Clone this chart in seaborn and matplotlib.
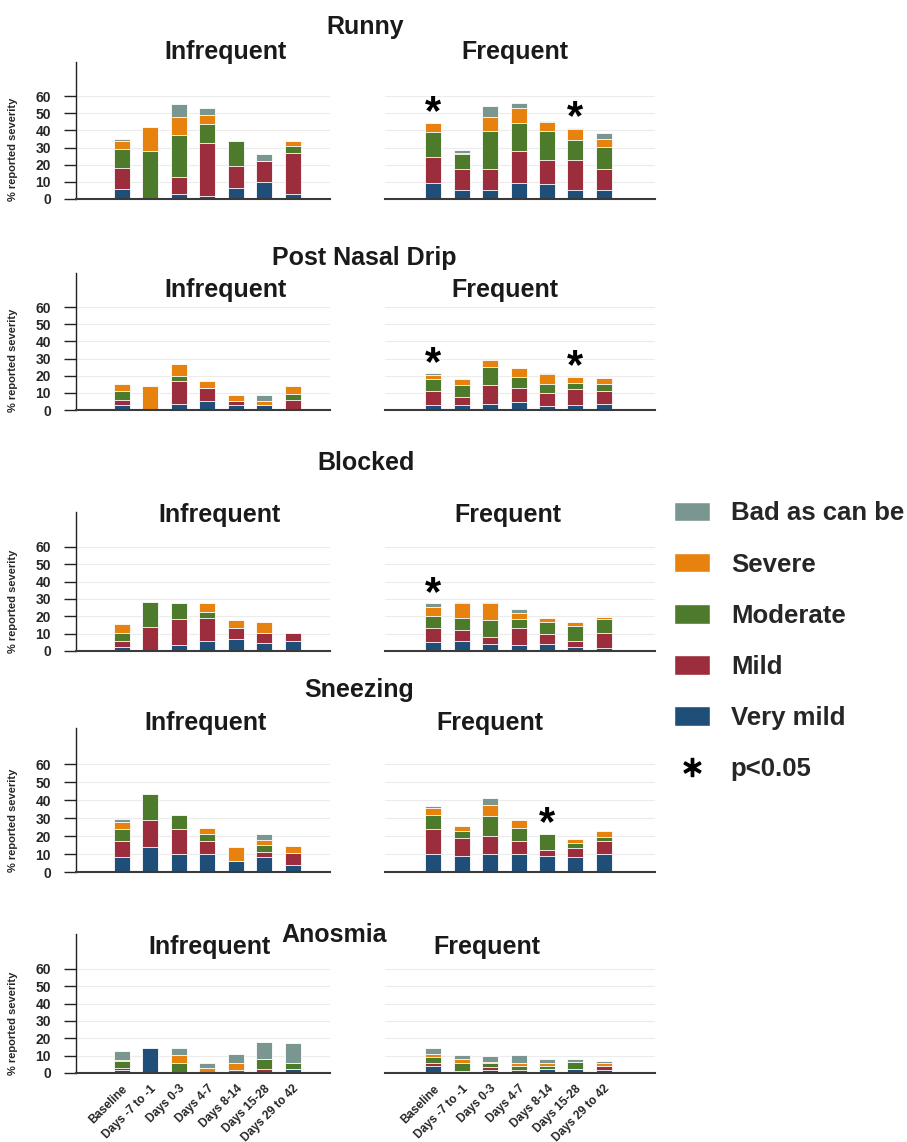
import seaborn as sns
import matplotlib.pyplot as plt
import pandas as pd
import numpy as np
from matplotlib.patches import Patch
from matplotlib.lines import Line2D

sns.set_theme(style="whitegrid")
plt.rcParams['font.family'] = ['Liberation Sans', 'DejaVu Sans']

timepoints = ["Baseline", "Days -7 to -1", "Days 0-3", "Days 4-7",
              "Days 8-14", "Days 15-28", "Days 29 to 42"]
levels = ["Very mild", "Mild", "Moderate", "Severe", "Bad as can be"]
level_colors = ["#1f4e79", "#9b2d3c", "#4e7a2c", "#e8820e", "#7a9690"]

# each panel: rows = very mild, mild, moderate, severe, bad as can be (% of reports)
runny_infrequent = [
    [6, 0, 3, 2, 6.5, 10, 3],
    [12, 0, 10, 30.5, 13, 12, 24],
    [11, 28, 24, 11, 14, 0, 4],
    [5, 14, 10.5, 5.5, 0, 0, 3],
    [1, 0, 8, 4, 0, 4, 0],
]
runny_frequent = [
    [9.5, 5.5, 5, 9.5, 8.5, 5, 5.5],
    [15, 12, 12.5, 18.5, 14, 17.5, 12],
    [14.5, 9, 22, 16, 17, 12, 13],
    [5.5, 0.5, 8.5, 9, 5.5, 6, 4.5],
    [0, 1.5, 6, 3, 0.5, 1, 3.5],
]
pnd_infrequent = [
    [3, 0, 3.5, 5.5, 3, 3, 0],
    [3, 0, 13.5, 7.5, 2.5, 0, 6],
    [5, 0, 3, 0, 0, 0, 3.5],
    [4, 14, 7, 4, 3, 2.5, 4.5],
    [0, 0, 0, 0, 0, 3, 0],
]
pnd_frequent = [
    [3, 3, 3.5, 4.5, 2.5, 3, 3.5],
    [8, 4.5, 11, 8.5, 7.5, 9, 7.5],
    [7, 7, 10.5, 6, 5, 4, 4],
    [2.5, 3.5, 4, 5.5, 6, 3.5, 3.5],
    [1, 0, 0, 0, 0.5, 0, 0],
]
blocked_infrequent = [
    [2.5, 0, 3.5, 6, 7, 4.5, 6],
    [3, 14, 15, 13, 6, 6, 4.5],
    [5, 14.5, 9, 3.5, 0, 0, 0],
    [5, 0, 0, 5, 5, 6.5, 0],
    [0, 0, 0, 0, 0, 0, 0],
]
blocked_frequent = [
    [5, 6, 4, 3.5, 4, 2.5, 2],
    [8, 6, 4, 10, 6, 3.5, 8.5],
    [7, 7, 10, 5, 6.5, 8.5, 8],
    [5.5, 8.5, 9.5, 3.5, 2.5, 2.5, 1],
    [2, 1, 1, 2, 0, 0, 0],
]
sneezing_infrequent = [
    [8.5, 14, 10, 10, 6, 8.5, 4],
    [9, 15, 14, 7.5, 0, 2.5, 6.5],
    [6.5, 14.5, 7.5, 3.5, 0, 4, 0],
    [4, 0, 0, 3.5, 8, 3, 4],
    [1.5, 0, 0, 0, 0, 3, 0],
]
sneezing_frequent = [
    [10, 9, 10, 10, 9, 8.5, 10],
    [14, 10, 10, 7.5, 3, 5, 7],
    [7.5, 4, 11, 7, 9, 2.5, 2.5],
    [4, 2.5, 6, 4.5, 0, 2.5, 3.5],
    [1, 0, 4, 0, 0, 0, 0],
]
anosmia_infrequent = [
    [1.5, 14.5, 0, 0, 0, 0, 2.5],
    [1.5, 0, 0, 0, 0, 2.5, 0],
    [4, 0, 6, 0, 2, 5.5, 3.5],
    [0.5, 0, 4.5, 3, 4, 0, 0],
    [5, 0, 4, 3, 5, 10, 11.5],
]
anosmia_frequent = [
    [4, 1, 2, 0, 2.5, 2.5, 2],
    [2, 0, 1.5, 1.5, 0, 0, 2],
    [3, 4.5, 2, 2.5, 1.5, 4, 0],
    [2, 2.5, 1, 1.5, 2, 0, 2],
    [3.5, 2.5, 3.5, 5, 2, 1.5, 1],
]

# time points with p<0.05 (frequent group)
runny_sig = [0, 5]
pnd_sig = [0, 5]
blocked_sig = [0]
sneezing_sig = [4]
anosmia_sig = []

W, H = 907, 1142
fig = plt.figure(figsize=(W / 100, H / 100), dpi=100)

# symptom, data, sig, y of zero line, y of 60 line, title y, subtitle y, subtitle x
rows = [
    ("Runny", runny_infrequent, runny_frequent, runny_sig, 199, 96, 27, 52, (225, 515)),
    ("Post Nasal Drip", pnd_infrequent, pnd_frequent, pnd_sig, 410, 307, 258, 290, (225, 505)),
    ("Blocked", blocked_infrequent, blocked_frequent, blocked_sig, 651, 547, 463, 515, (219, 508)),
    ("Sneezing", sneezing_infrequent, sneezing_frequent, sneezing_sig, 872, 764, 690, 723, (205, 490)),
    ("Anosmia", anosmia_infrequent, anosmia_frequent, anosmia_sig, 1073, 969, 935, 947, (210, 487)),
]
title_x = [365, 364, 366, 359, 334]


def stacked(ax, values):
    df = pd.DataFrame(np.array(values).T, columns=levels)
    cum = df[levels].cumsum(axis=1)
    cum["timepoint"] = timepoints
    for lev, col in reversed(list(zip(levels, level_colors))):
        sns.barplot(data=cum, x="timepoint", y=lev, order=timepoints, color=col,
                    saturation=1, width=0.56, edgecolor="white", linewidth=0.6, ax=ax)
    return cum[levels[-1]].to_numpy()


for r, (name, inf, freq, sig, y0, y60, ty, sty, stx) in enumerate(rows):
    scale = (y0 - y60) / 60
    top = y0 - 80 * scale
    last = r == len(rows) - 1
    for c, (vals, x0, x1, xlim) in enumerate([(inf, 76, 330, (-1.6, 7.3)),
                                              (freq, 385, 655, (-1.7, 7.8))]):
        ax = fig.add_axes([x0 / W, 1 - y0 / H, (x1 - x0) / W, (y0 - top) / H])
        totals = stacked(ax, vals)
        ax.set_ylim(0, 80)
        ax.set_xlim(*xlim)
        ax.set_yticks(range(0, 70, 10))
        ax.set_xlabel("")
        ax.set_ylabel("")
        ax.grid(axis="y", color="#ececec", lw=0.8)
        ax.grid(axis="x", visible=False)
        ax.set_axisbelow(True)
        for s in ["top", "right"]:
            ax.spines[s].set_visible(False)
        ax.spines["bottom"].set_color("#3a3a3a")
        ax.spines["bottom"].set_linewidth(1.5)
        if c == 0:
            ax.spines["left"].set_color("#222222")
            ax.spines["left"].set_linewidth(1)
            ax.tick_params(axis="y", left=True, length=9, width=1, color="#222222",
                           pad=9, labelsize=10)
            for lbl in ax.get_yticklabels():
                lbl.set_fontweight("bold")
            ax.set_ylabel("% reported severity", fontsize=8, fontweight="bold")
            ax.yaxis.set_label_coords(-0.228, 0.36)
        else:
            ax.spines["left"].set_visible(False)
            ax.tick_params(axis="y", left=False, labelleft=False)
        if last:
            ax.tick_params(axis="x", bottom=False, pad=1)
            ax.set_xticks(range(len(timepoints)))
            ax.set_xticklabels(timepoints, rotation=45, ha="right",
                               rotation_mode="anchor", fontsize=8.5, fontweight="bold")
        else:
            ax.tick_params(axis="x", bottom=False, labelbottom=False)
        if c == 1:
            for i in sig:
                ax.text(i, totals[i] + 5.5, "*", ha="center", va="center",
                        fontsize=30, fontweight="bold", color="black")
        fig.text(stx[c] / W, 1 - sty / H, ["Infrequent", "Frequent"][c],
                 ha="center", va="center", fontsize=18, fontweight="bold", color="#1a1a1a")
    fig.text(title_x[r] / W, 1 - ty / H, name, ha="center", va="center",
             fontsize=18, fontweight="bold", color="#1a1a1a")

handles = [Patch(facecolor=col) for col in reversed(level_colors)]
handles.append(Line2D([], [], marker=r"$\ast$", linestyle="none", color="black",
                      markersize=13))
labels = list(reversed(levels)) + ["p<0.05"]
fig.legend(handles, labels, loc="upper left", bbox_to_anchor=(664 / W, 1 - 491 / H),
           frameon=False, prop={"size": 18.5, "weight": "bold"}, handlelength=1.4,
           handleheight=0.8, labelspacing=1.06, handletextpad=0.8, borderaxespad=0)

plt.savefig("out.png", dpi=100)
plt.close()
